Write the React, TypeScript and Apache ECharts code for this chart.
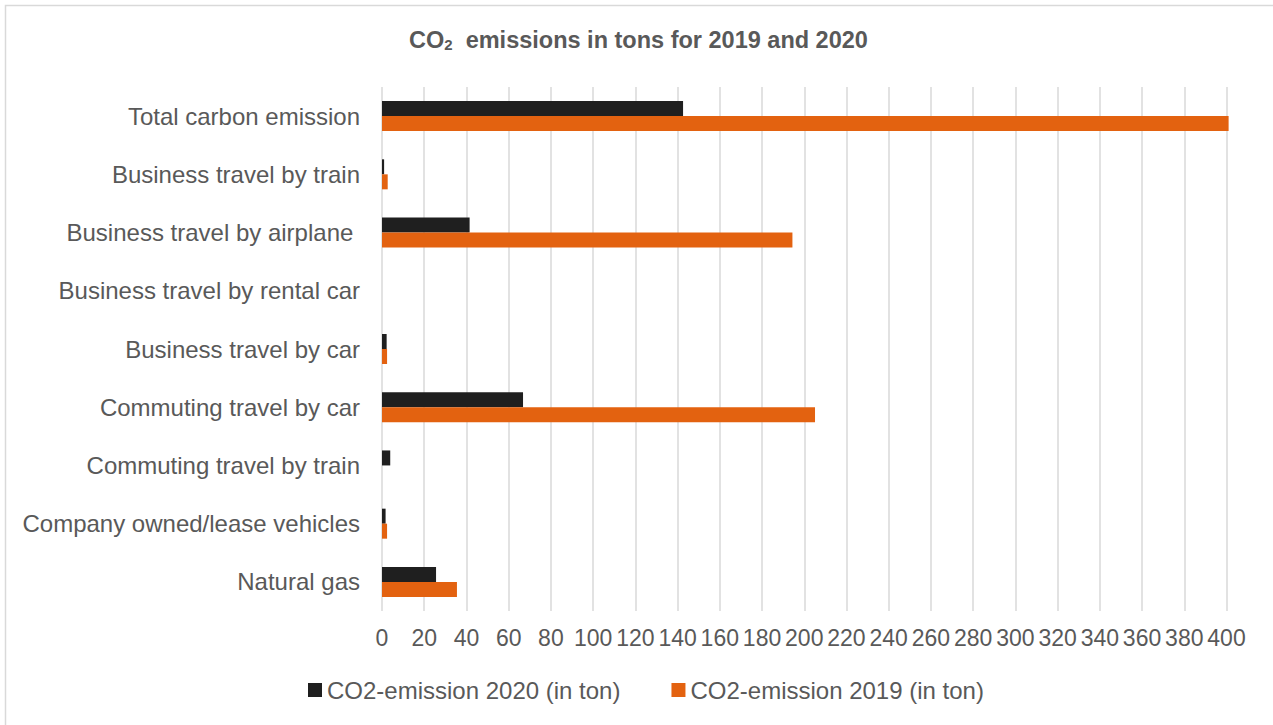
import React, { useEffect, useRef } from "react";
import * as echarts from "echarts";

const categories = [
  "Total carbon emission",
  "Business travel by train",
  "Business travel by airplane ",
  "Business travel by rental car",
  "Business travel by car",
  "Commuting travel by car",
  "Commuting travel by train",
  "Company owned/lease vehicles",
  "Natural gas",
];
const emission2020 = [142.6, 1.0, 41.5, 0, 2.2, 66.8, 3.9, 1.7, 25.6];
const emission2019 = [401, 2.7, 194.4, 0, 2.4, 205.1, 0, 2.4, 35.5];
const seriesNames = ["CO2-emission 2020 (in ton)", "CO2-emission 2019 (in ton)"];

const FONT = "Liberation Sans, Arial, sans-serif";
const GREY = "#595959";

export default function App() {
  const ref = useRef<HTMLDivElement>(null);
  useEffect(() => {
    document.body.style.margin = "0";
    const chart = echarts.init(ref.current!, null, { renderer: "svg" });
    chart.setOption({
      animation: false,
      backgroundColor: "#ffffff",
      textStyle: { fontFamily: FONT },
      graphic: [
        {
          type: "rect",
          shape: { x: 5.5, y: 5.5, width: 1300, height: 800 },
          style: { fill: "none", stroke: "#d9d9d9", lineWidth: 1.5 },
          silent: true,
          z: -10,
        },
      ],
      title: {
        left: 404,
        top: 22,
        text: "{a|CO}{s|2}{a|  emissions in tons for 2019 and 2020}",
        textStyle: {
          rich: {
            a: { fontFamily: FONT, fontSize: 23.5, fontWeight: "bold", color: GREY },
            s: { fontFamily: FONT, fontSize: 15, fontWeight: "bold", color: GREY, padding: [10, 0, 0, 0] },
          },
        },
      },
      legend: {
        top: 673,
        left: 303,
        itemWidth: 14,
        itemHeight: 14,
        itemGap: 51,
        icon: "rect",
        textStyle: { fontFamily: FONT, fontSize: 24, color: GREY },
        data: seriesNames,
      },
      grid: { left: 382, right: 46.5, top: 87, bottom: 114, containLabel: false },
      xAxis: {
        type: "value",
        min: 0,
        max: 400,
        interval: 20,
        axisLine: { show: false },
        axisTick: { show: false },
        splitLine: { show: true, lineStyle: { color: "#d9d9d9", width: 1.5 } },
        axisLabel: { fontFamily: FONT, fontSize: 23, color: GREY, margin: 15 },
      },
      yAxis: {
        type: "category",
        inverse: true,
        data: categories,
        axisLine: { show: false },
        axisTick: { show: false },
        axisLabel: { fontFamily: FONT, fontSize: 24, color: GREY, margin: 22 },
      },
      series: [
        {
          name: seriesNames[0],
          type: "bar",
          data: emission2020,
          barWidth: 15,
          barGap: "0%",
          clip: false,
          itemStyle: { color: "#1f1f1f" },
        },
        {
          name: seriesNames[1],
          type: "bar",
          data: emission2019,
          barWidth: 15,
          barGap: "0%",
          clip: false,
          itemStyle: { color: "#e36210" },
        },
      ],
    });
    return () => chart.dispose();
  }, []);
  return <div ref={ref} style={{ width: 1273, height: 725 }} />;
}
